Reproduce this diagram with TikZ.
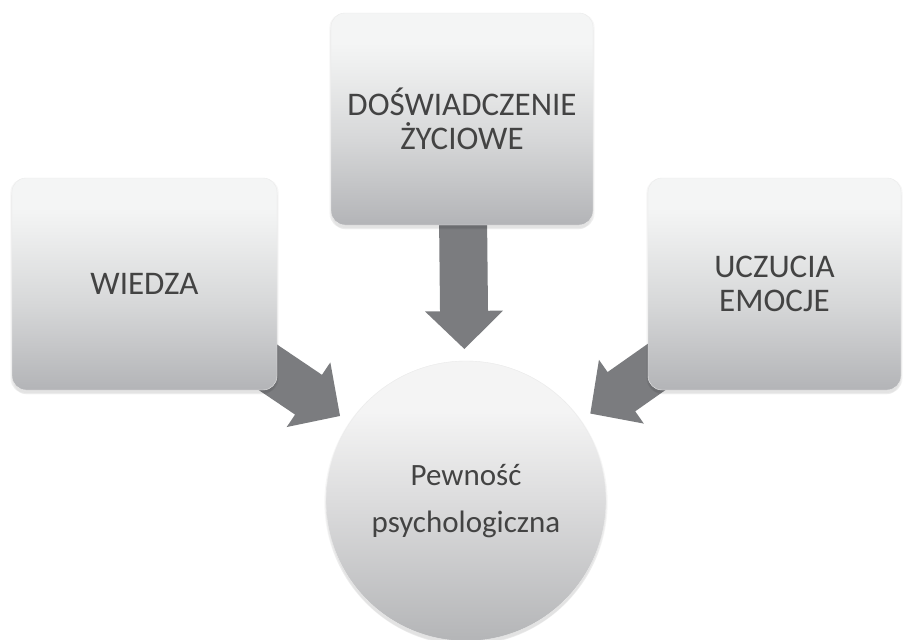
\documentclass[tikz,border=0pt]{standalone}
\usepackage{fontspec}
\setmainfont{Carlito}
\usetikzlibrary{calc,shadows,backgrounds}
\definecolor{txt}{HTML}{434343}
\definecolor{btop}{HTML}{F4F5F5}
\definecolor{bhi}{HTML}{EDEEEE}
\definecolor{bmid}{HTML}{D6D7D8}
\definecolor{bbot}{HTML}{B3B4B7}
\definecolor{ctop}{HTML}{F4F4F4}
\definecolor{cmid}{HTML}{DCDCDD}
\definecolor{cbot}{HTML}{B4B5B7}
\definecolor{agray}{HTML}{7B7C7F}
\pgfdeclareverticalshading{boxshade}{100bp}{color(0bp)=(bbot); color(25bp)=(bbot); color(45bp)=(bmid); color(62bp)=(bhi); color(68bp)=(btop); color(100bp)=(btop)}
\pgfdeclareverticalshading{circshade}{100bp}{color(0bp)=(cbot); color(25bp)=(cbot); color(50bp)=(cmid); color(66bp)=(ctop); color(100bp)=(ctop)}
\newcommand\blockarrow[2]{%
  \coordinate (H) at ($(#2)!38pt!(#1)$);
  \fill[arrowstyle] ($(#1)!24pt!90:(#2)$) -- ($(H)!24pt!90:(#2)$) -- ($(H)!39pt!90:(#2)$) -- (#2)
    -- ($(H)!39pt!-90:(#2)$) -- ($(H)!24pt!-90:(#2)$) -- ($(#1)!24pt!-90:(#2)$) -- cycle;
}
\begin{document}
\begin{tikzpicture}[x=1pt,y=-1pt,
  softshadow/.style={
    general shadow={fill=black,opacity=0.035,shadow yshift=-1.5pt,shadow scale=1.012},
    general shadow={fill=black,opacity=0.04,shadow yshift=-3.5pt,shadow scale=1.004},
    general shadow={fill=black,opacity=0.04,shadow yshift=-5.5pt,shadow scale=0.99}},
  box/.style={rounded corners=14pt, shading=boxshade, minimum width=#1, minimum height=212pt,
    inner sep=0pt, text=txt, align=center, font=\fontsize{33}{34}\selectfont, softshadow,
    draw=white!92!black, line width=0.4pt},
  circ/.style={circle, shading=circshade, minimum size=280pt, inner sep=0pt, text=txt,
    align=center, font=\fontsize{31}{47}\selectfont, softshadow, draw=white!92!black, line width=0.4pt},
  arrowstyle/.style={fill=agray}]
\useasboundingbox (0,0) rectangle (903,640);
\node[box=265pt] (wiedza) at (144.5,284) {WIEDZA};
\node[box=262pt] (dosw) at (462,119) {DOŚWIADCZENIE\\ŻYCIOWE};
\node[box=253pt] (uczucia) at (774.5,284) {UCZUCIA\\EMOCJE};
\node[circ] (pewnosc) at (466,501) {Pewność\\psychologiczna};
\coordinate (tl) at ($(pewnosc.center)!152pt!(wiedza.center)$);
\coordinate (tt) at ($(pewnosc.center)!152pt!(dosw.center)$);
\coordinate (tr) at ($(pewnosc.center)!152pt!(uczucia.center)$);
\begin{scope}[on background layer]
  \blockarrow{wiedza.center}{tl}
  \blockarrow{dosw.center}{tt}
  \blockarrow{uczucia.center}{tr}
\end{scope}
\end{tikzpicture}
\end{document}
